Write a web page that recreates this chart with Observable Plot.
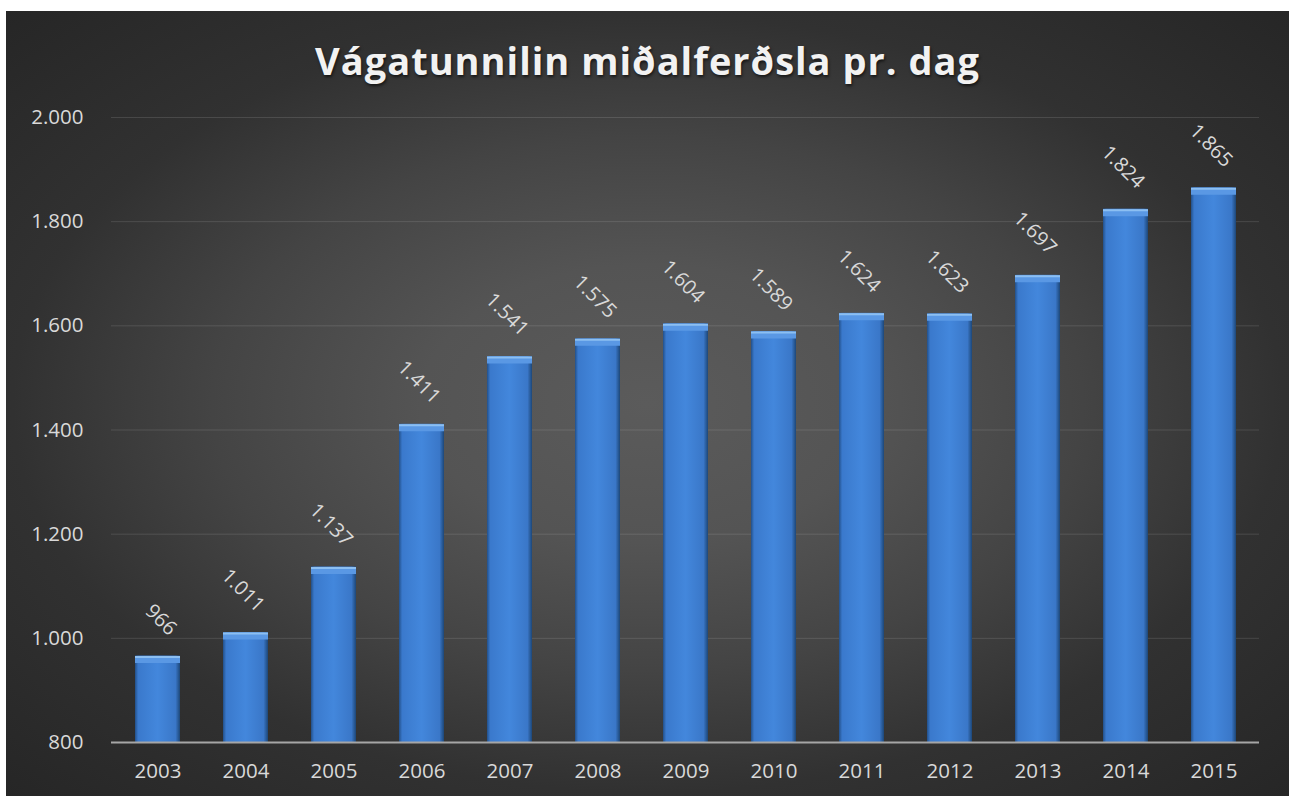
<!DOCTYPE html>
<html>
<head>
<meta charset="utf-8">
<script src="https://cdn.jsdelivr.net/npm/d3@7"></script>
<script src="https://cdn.jsdelivr.net/npm/@observablehq/plot@0.6"></script>
<style>
html, body { margin: 0; padding: 0; background: #ffffff; }
#chart {
  position: absolute; left: 6px; top: 11px; width: 1283px; height: 785px; overflow: hidden;
  background: radial-gradient(ellipse farthest-corner at 50% 50%, #5b5b5b 0%, #545454 25%, #444444 48%, #313131 70%, #262626 100%);
  font-family: "Open Sans", sans-serif;
}
#title {
  position: absolute; left: 0; right: 0; top: 30px; text-align: center;
  font-size: 38px; line-height: 1; font-weight: bold; letter-spacing: 1px; color: #f2f2f2;
  text-shadow: 1px 2px 3px rgba(0,0,0,0.6);
}
#plot { position: absolute; left: 0; top: 90px; }
</style>
</head>
<body>
<div id="chart">
  <div id="title">Vágatunnilin miðalferðsla pr. dag</div>
  <div id="plot"></div>
</div>
<script>
const years = ["2003","2004","2005","2006","2007","2008","2009","2010","2011","2012","2013","2014","2015"];
const values = [966, 1011, 1137, 1411, 1541, 1575, 1604, 1589, 1624, 1623, 1697, 1824, 1865];
const yTicks = [800, 1000, 1200, 1400, 1600, 1800, 2000];
const baseValue = 800;

const data = years.map((year, i) => ({year, value: values[i]}));
const fmt = d3.formatLocale({decimal: ",", thousands: ".", grouping: [3]}).format(",d");

const plot = Plot.plot({
  width: 1283, height: 695,
  marginTop: 16, marginBottom: 54, marginLeft: 105, marginRight: 30,
  style: {background: "transparent", color: "#d9d9d9", fontFamily: "Open Sans, sans-serif", fontSize: "20.5px", overflow: "visible"},
  x: {domain: years, paddingInner: 0.49, paddingOuter: 0.245, label: null, tickSize: 0, tickPadding: 21},
  y: {domain: [baseValue, 2000], ticks: yTicks, tickFormat: fmt, label: null, tickSize: 0, tickPadding: 28},
  marks: [
    Plot.ruleY(yTicks.filter(t => t > baseValue), {stroke: "#ffffff", strokeOpacity: 0.12, strokeWidth: 1}),
    Plot.barY(data, {x: "year", y1: baseValue, y2: "value", fill: "url(#barGrad)"}),
    Plot.tickY(data, {x: "year", y: "value", stroke: "#5a98e4", strokeWidth: 7, dy: 3.5}),
    Plot.tickY(data, {x: "year", y: "value", stroke: "#8cbff2", strokeWidth: 2, dy: 1}),
    Plot.ruleY([baseValue], {stroke: "#a6a6a6", strokeWidth: 2}),
    Plot.text(data, {x: "year", y: "value", text: d => fmt(d.value), rotate: 45, textAnchor: "end", lineAnchor: "middle", dx: 15, dy: -24, fill: "#d9d9d9", fontSize: 20})
  ]
});

const svg = d3.select(plot);
const defs = svg.insert("defs", ":first-child");
const g = defs.append("linearGradient").attr("id", "barGrad").attr("x1", 0).attr("x2", 1).attr("y1", 0).attr("y2", 0);
[["0%", "#22508a"], ["7%", "#3a79cc"], ["50%", "#4387dc"], ["90%", "#3a77c8"], ["100%", "#1d4778"]].forEach(([o, c]) =>
  g.append("stop").attr("offset", o).attr("stop-color", c));

document.getElementById("plot").appendChild(plot);
</script>
</body>
</html>
